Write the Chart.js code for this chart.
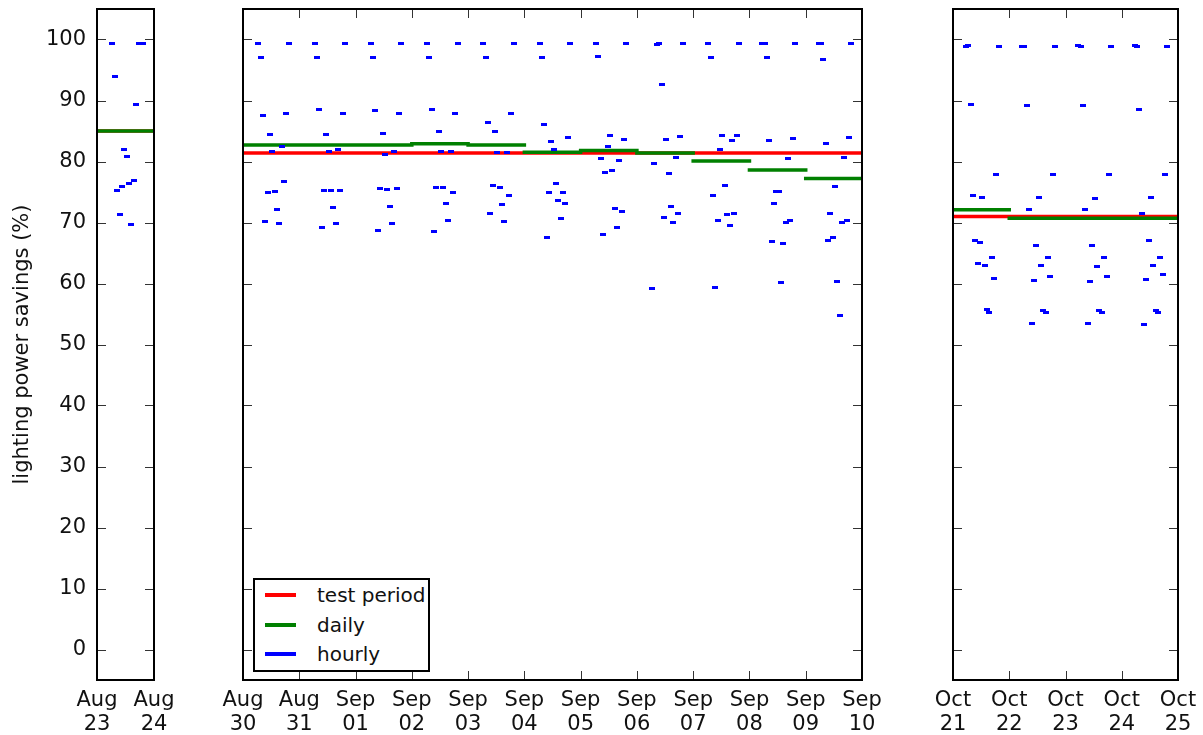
<!DOCTYPE html>
<html>
<head>
<meta charset="utf-8">
<script src="https://cdn.jsdelivr.net/npm/chart.js@4.4.1/dist/chart.umd.min.js"></script>
<style>
  body { margin: 0; background: #fff; }
  #wrap { position: relative; width: 1203px; height: 735px; overflow: hidden; font-family: "DejaVu Sans"; }
  #wrap canvas { position: absolute; top: 0; }
  #legend { position: absolute; left: 253px; top: 578px; width: 173px; height: 90px; border: 2px solid #000; background: #fff; }
  #legend .row { position: absolute; left: 0; height: 24px; line-height: 24px; font-size: 20px; color: #111; }
  #legend .swatch { position: absolute; left: 10px; top: 10px; width: 31px; height: 3.5px; }
  #legend .label { position: absolute; left: 62px; top: 0; white-space: nowrap; }
</style>
</head>
<body>
<div id="wrap">
  <canvas id="chartA" width="200" height="735" style="left:0px"></canvas>
  <canvas id="chartB" width="720" height="735" style="left:180px"></canvas>
  <canvas id="chartC" width="303" height="735" style="left:900px"></canvas>
  <div id="legend"></div>
</div>
<script>
// series names + colours (legend order)
var seriesNames = ['test period', 'daily', 'hourly'];
var seriesColors = ['#ff0000', '#008000', '#0000ff'];

var yTicks = [0, 10, 20, 30, 40, 50, 60, 70, 80, 90, 100];

// panel 1: Aug 23 - Aug 24
var daysA = [['Aug', '23'], ['Aug', '24']];
var hourlyStartA = [6.5];
var hourlyA = [
  [99.4, 93.9, 75.3, 71.3, 75.9, 81.9, 80.8, 76.4, 69.6, 76.9, 89.3, 99.4, 99.4, 99.4]
];
var dailyA = [85.0];
var testA = 85.0;

// panel 2: Aug 30 - Sep 10
var daysB = [['Aug', '30'], ['Aug', '31'], ['Sep', '01'], ['Sep', '02'], ['Sep', '03'], ['Sep', '04'],
  ['Sep', '05'], ['Sep', '06'], ['Sep', '07'], ['Sep', '08'], ['Sep', '09'], ['Sep', '10']];
var hourlyStartB = [6.5, 6.5, 6.5, 6.5, 6.5, 6.5, 6.5, 6.5, 6.5, 5.5, 5.5];
var hourlyB = [
  [99.4, 97.0, 87.5, 70.1, 75.0, 84.4, 81.6, 75.1, 72.1, 69.8, 82.5, 76.7, 87.8, 99.4],
  [99.4, 97.0, 88.6, 69.2, 75.3, 84.5, 81.7, 75.3, 72.5, 69.9, 81.9, 75.3, 87.8, 99.4],
  [99.4, 97.0, 88.3, 68.7, 75.6, 84.6, 81.2, 75.4, 72.7, 69.9, 81.6, 75.6, 87.8, 99.4],
  [99.4, 97.0, 88.5, 68.6, 75.8, 84.9, 81.6, 75.8, 73.1, 70.3, 81.6, 74.9, 87.8, 99.4],
  [99.4, 97.0, 86.4, 71.5, 76.0, 85.0, 81.4, 75.8, 72.9, 70.1, 81.5, 74.5, 87.8, 99.4],
  [99.4, 97.0, 86.0, 67.6, 75.0, 83.2, 82.0, 76.4, 73.6, 70.6, 74.9, 73.1, 83.9, 99.4],
  [99.4, 97.2, 80.5, 68.1, 78.2, 82.5, 84.2, 78.5, 72.3, 69.2, 80.2, 71.8, 83.6, 99.4],
  [59.2, 79.6, 99.2, 99.4, 92.6, 70.8, 83.6, 78.1, 72.7, 70.0, 80.6, 71.5, 84.1, 99.4],
  [99.4, 97.0, 74.5, 59.3, 70.3, 82.0, 84.3, 76.0, 71.3, 69.5, 83.4, 71.5, 84.2, 99.4],
  [99.4, 99.4, 97.0, 83.4, 66.9, 73.1, 75.1, 75.1, 60.1, 66.6, 70.0, 80.5, 70.3, 83.8, 99.4],
  [99.4, 99.4, 96.8, 82.9, 67.0, 71.5, 67.5, 75.9, 60.4, 54.8, 70.0, 80.6, 70.3, 83.9, 99.4]
];
var dailyB = [82.7, 82.7, 82.7, 82.9, 82.7, 81.5, 81.8, 81.4, 80.1, 78.6, 77.2];
var testB = 81.4;

// panel 3: Oct 21 - Oct 25
var daysC = [['Oct', '21'], ['Oct', '22'], ['Oct', '23'], ['Oct', '24'], ['Oct', '25']];
var hourlyStartC = [5.5, 5.5, 5.5, 5.5];
var hourlyC = [
  [98.9, 99.0, 89.3, 74.4, 67.0, 63.3, 66.8, 74.1, 62.9, 55.7, 55.3, 64.3, 60.9, 77.9, 98.9],
  [98.9, 98.9, 89.1, 72.2, 53.4, 60.5, 66.3, 74.1, 63.0, 55.6, 55.2, 64.3, 61.1, 77.8, 98.9],
  [99.0, 98.9, 89.1, 72.1, 53.4, 60.4, 66.3, 74.0, 62.8, 55.6, 55.2, 64.3, 61.2, 77.8, 98.9],
  [99.0, 98.9, 88.6, 71.5, 53.3, 60.6, 67.0, 74.1, 62.9, 55.6, 55.2, 64.3, 61.5, 77.8, 98.9]
];
var dailyC = [72.1, 70.7, 70.7, 70.7];
var testC = 71.0;

Chart.defaults.font.family = 'DejaVu Sans';
Chart.defaults.font.size = 21;
Chart.defaults.color = '#111';

// small blue dash used as marker for hourly values
var dash = document.createElement('canvas');
dash.width = 6;
dash.height = 3;
var dctx = dash.getContext('2d');
dctx.fillStyle = seriesColors[2];
dctx.fillRect(0, 0, 6, 3);

function hourlyPoints(values, starts) {
  var pts = [];
  values.forEach(function (day, d) {
    day.forEach(function (v, i) {
      pts.push({ x: d + (starts[d] + i) / 24, y: v });
    });
  });
  return pts;
}

function dailyPoints(values) {
  var pts = [];
  values.forEach(function (v, d) {
    pts.push({ x: d, y: v }, { x: d + 1, y: v }, { x: d + 1, y: null });
  });
  return pts;
}

// box round the plot plus inward ticks on all four sides
var framePlugin = {
  id: 'frame',
  afterDraw: function (chart) {
    var ctx = chart.ctx;
    var area = chart.chartArea;
    var xs = chart.scales.x;
    var ys = chart.scales.y;
    ctx.save();
    ctx.strokeStyle = '#333';
    ctx.lineWidth = 1;
    ctx.beginPath();
    for (var d = xs.min; d <= xs.max; d++) {
      var px = Math.round(xs.getPixelForValue(d)) + 0.5;
      ctx.moveTo(px, area.bottom);
      ctx.lineTo(px, area.bottom - 9);
      ctx.moveTo(px, area.top);
      ctx.lineTo(px, area.top + 9);
    }
    yTicks.forEach(function (v) {
      var py = Math.round(ys.getPixelForValue(v)) + 0.5;
      ctx.moveTo(area.left, py);
      ctx.lineTo(area.left + 9, py);
      ctx.moveTo(area.right, py);
      ctx.lineTo(area.right - 9, py);
    });
    ctx.stroke();
    ctx.strokeStyle = '#000';
    ctx.lineWidth = 2;
    ctx.strokeRect(area.left, area.top, area.right - area.left, area.bottom - area.top);
    ctx.restore();
  }
};

function makePanel(id, days, hourly, hourlyStart, daily, test, pad, showY) {
  var n = days.length - 1;
  return new Chart(id, {
    type: 'scatter',
    data: {
      datasets: [{
        label: seriesNames[2],
        data: hourlyPoints(hourly, hourlyStart),
        pointStyle: dash,
        pointRadius: 3,
        order: 0
      }, {
        label: seriesNames[1],
        data: dailyPoints(daily),
        showLine: true,
        borderColor: seriesColors[1],
        borderWidth: 3.5,
        borderCapStyle: 'square',
        pointRadius: 0,
        spanGaps: false,
        order: 1
      }, {
        label: seriesNames[0],
        data: [{ x: 0, y: test }, { x: n, y: test }],
        showLine: true,
        borderColor: seriesColors[0],
        borderWidth: 3.5,
        pointRadius: 0,
        order: 2
      }]
    },
    options: {
      responsive: false,
      animation: false,
      events: [],
      layout: { autoPadding: false, padding: pad },
      plugins: {
        legend: { display: false },
        tooltip: { enabled: false }
      },
      scales: {
        x: {
          type: 'linear',
          min: 0,
          max: n,
          grid: { display: false, drawTicks: false },
          border: { display: false },
          afterBuildTicks: function (s) {
            s.ticks = days.map(function (_, i) { return { value: i }; });
          },
          ticks: {
            autoSkip: false,
            maxRotation: 0,
            padding: 8,
            font: { lineHeight: 1.15 },
            callback: function (v, i) { return days[i]; }
          },
          afterFit: function (s) {
            s.height = 55;
            s.paddingLeft = 0;
            s.paddingRight = 0;
          }
        },
        y: {
          min: -5,
          max: 105,
          grid: { display: false, drawTicks: false },
          border: { display: false },
          afterBuildTicks: function (s) {
            s.ticks = yTicks.map(function (v) { return { value: v }; });
          },
          ticks: { display: showY, padding: 11 },
          title: {
            display: showY,
            text: 'lighting power savings (%)',
            padding: { top: 10, bottom: 0 }
          },
          afterFit: function (s) {
            s.width = showY ? 97 : 0;
            s.paddingTop = 0;
            s.paddingBottom = 0;
          }
        }
      }
    },
    plugins: [framePlugin]
  });
}

makePanel('chartA', daysA, hourlyA, hourlyStartA, dailyA, testA,
  { left: 0, right: 46, top: 9, bottom: 0 }, true);
makePanel('chartB', daysB, hourlyB, hourlyStartB, dailyB, testB,
  { left: 63, right: 38, top: 9, bottom: 0 }, false);
makePanel('chartC', daysC, hourlyC, hourlyStartC, dailyC, testC,
  { left: 53, right: 25, top: 9, bottom: 0 }, false);

// legend box inside the middle panel
var legend = document.getElementById('legend');
var rowTops = [3, 33, 62];
seriesNames.forEach(function (name, i) {
  var row = document.createElement('div');
  row.className = 'row';
  row.style.top = rowTops[i] + 'px';
  row.innerHTML = '<span class="swatch" style="background:' + seriesColors[i] + '"></span>' +
    '<span class="label">' + name + '</span>';
  legend.appendChild(row);
});
</script>
</body>
</html>
